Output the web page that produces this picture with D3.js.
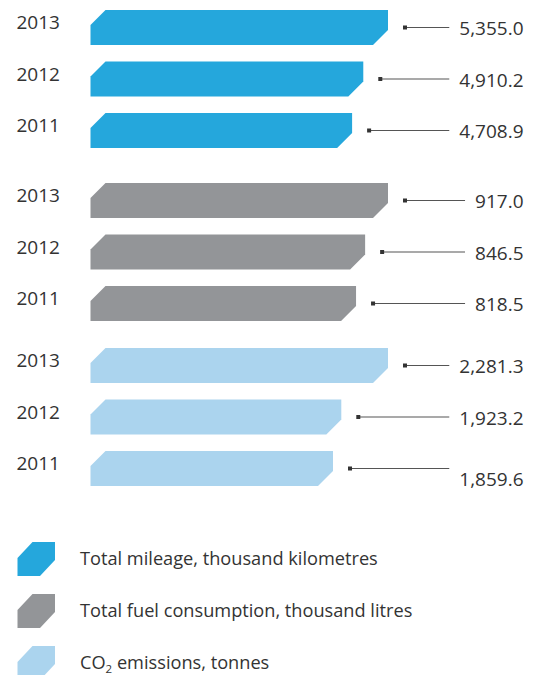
<!DOCTYPE html>
<html><head><meta charset="utf-8">
<script src="https://cdn.jsdelivr.net/npm/d3@7"></script>
<style>
html,body{margin:0;padding:0;background:#fff;}
text{font-family:"Open Sans","Noto Sans",sans-serif;fill:#333;}
</style></head>
<body><svg id="c" width="536" height="675"></svg>
<script>
const years = ["2013","2012","2011"];
const series = ["Total mileage, thousand kilometres","Total fuel consumption, thousand litres","CO2 emissions, tonnes"];
const colors = ["#25a7dc","#939598","#abd4ee"];
const mileage = [5355.0, 4910.2, 4708.9];
const fuel = [917.0, 846.5, 818.5];
const co2 = [2281.3, 1923.2, 1859.6];
const valueLabels = [["5,355.0","4,910.2","4,708.9"],["917.0","846.5","818.5"],["2,281.3","1,923.2","1,859.6"]];
const groups = [mileage, fuel, co2];

const svg = d3.select("#c");
const x0 = 90.5, barW = 297.5, barH = 35, step = 51.5, cut = 15;
const groupTop = d3.scaleOrdinal().domain([0,1,2]).range([10, 183, 348]);
const rowY = d3.scaleOrdinal().domain(years).range([0, step, 2*step]);
const textRight = 523.5;

function barPath(xa, xb, yt, h){
  return `M${xa},${yt+cut}L${xa+cut},${yt}L${xb},${yt}L${xb},${yt+h-cut}L${xb-cut},${yt+h}L${xa},${yt+h}Z`;
}

groups.forEach((vals, gi) => {
  const xs = d3.scaleLinear().domain([0, d3.max(vals)]).range([x0, x0+barW]);
  const g = svg.append("g");
  vals.forEach((v, i) => {
    const yr = years[i];
    const yt = groupTop(gi) + rowY(yr);
    const cy = yt + barH/2;
    const xe = xs(v);
    g.append("path").attr("d", barPath(x0, xe, yt, barH)).attr("fill", colors[gi]);
    g.append("text").attr("x", 16.5).attr("y", cy+1.5).attr("font-size", 19).text(yr);
    const nudge = (gi===2 && i===2) ? 10 : 0;
    const t = g.append("text").attr("x", textRight).attr("y", cy+7.5+nudge)
      .attr("text-anchor","end").attr("font-size", 19).text(valueLabels[gi][i]);
    const tw = t.node().getComputedTextLength();
    const dotX = xe + 17;
    g.append("line").attr("x1", dotX).attr("x2", textRight - tw - 10)
      .attr("y1", cy).attr("y2", cy).attr("stroke","#555").attr("stroke-width",1.2);
    g.append("rect").attr("x", dotX-2).attr("y", cy-2).attr("width",4).attr("height",4).attr("fill","#333");
  });
});

// legend
const legY = d3.scaleOrdinal().domain([0,1,2]).range([542, 594, 646]);
series.forEach((s, i) => {
  const y = legY(i);
  svg.append("path").attr("d", `M17.5,${y+16}L32.5,${y}L55,${y}L55,${y+18}L40,${y+34}L17.5,${y+34}Z`).attr("fill", colors[i]);
  const t = svg.append("text").attr("x", 80).attr("y", y+23).attr("font-size", 18.2);
  if (s.startsWith("CO2")) {
    t.append("tspan").text("CO");
    t.append("tspan").attr("font-size", 11.5).attr("dy", 4).text("2");
    t.append("tspan").attr("dy", -4).text(s.slice(3));
  } else t.text(s);
});
</script></body></html>
